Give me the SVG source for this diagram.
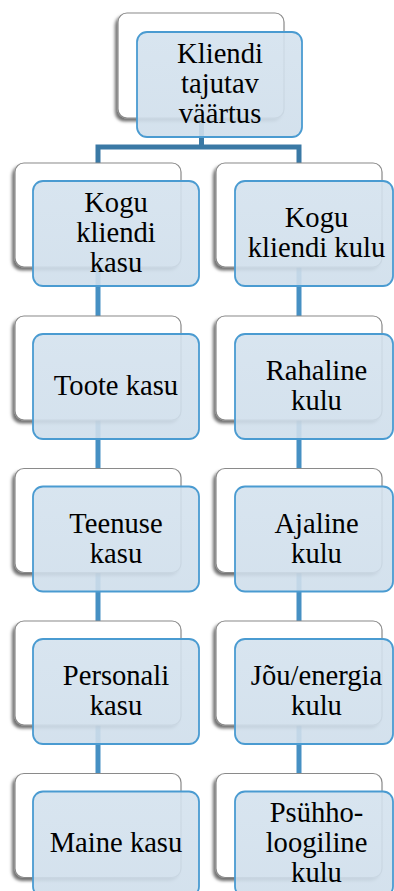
<svg xmlns="http://www.w3.org/2000/svg" width="394" height="891" viewBox="0 0 394 891">
<defs>
<filter id="sh" x="-20%" y="-20%" width="140%" height="150%">
<feDropShadow dx="-2.5" dy="3" stdDeviation="1.8" flood-color="#000" flood-opacity="0.55"/>
</filter>
<linearGradient id="bg" x1="0" y1="0" x2="0" y2="1">
<stop offset="0" stop-color="#d4e2ee"/>
<stop offset="1" stop-color="#cfdeeb"/>
</linearGradient>
</defs>
<style>
.w{fill:#fff;stroke:#8a8a8a;stroke-width:1.2;filter:url(#sh)}
.b{fill:url(#bg);fill-opacity:0.9;stroke:#4a9bd1;stroke-width:1.8}
text{font-family:Liberation Serif,DejaVu Serif,serif;font-size:28.6px;fill:#000;text-anchor:middle}
.c{fill:none;stroke-width:5}
.c0{stroke:#3a79a5}
.c1{stroke:#4690c3}
</style>
<rect width="394" height="891" fill="#fff"/>
<g id="connectors">
<path class="c c0" d="M201.5,118 V147 M98,163 V147 H299 V163"/>
<path class="c c1" d="M98,267 V316 M98,420 V468 M98,573 V621 M98,725 V774"/>
<path class="c c1" d="M299,267 V316 M299,420 V468 M299,573 V621 M299,725 V774"/>
</g>
<g id="n0">
<rect class="w" x="118" y="13" width="166" height="105" rx="9"/>
<rect class="b" x="137" y="32" width="165" height="105" rx="10"/>
<text font-family="Liberation Serif" x="220" y="63">Kliendi</text>
<text font-family="Liberation Serif" x="220" y="93">tajutav</text>
<text font-family="Liberation Serif" x="220" y="123">väärtus</text>
</g>
<g id="l1">
<rect class="w" x="15" y="163" width="166" height="104" rx="9"/>
<rect class="b" x="33" y="181" width="166" height="105" rx="10"/>
<text font-family="Liberation Serif" x="116" y="211.5">Kogu</text>
<text font-family="Liberation Serif" x="116" y="241.5">kliendi</text>
<text font-family="Liberation Serif" x="116" y="271.5">kasu</text>
</g>
<g id="r1">
<rect class="w" x="216" y="163" width="166" height="104" rx="9"/>
<rect class="b" x="235" y="181" width="158" height="105" rx="10"/>
<text font-family="Liberation Serif" x="316.5" y="227">Kogu</text>
<text font-family="Liberation Serif" x="316.5" y="257">kliendi kulu</text>
</g>
<g id="l2">
<rect class="w" x="15" y="316" width="166" height="104" rx="9"/>
<rect class="b" x="33" y="334" width="166" height="105" rx="10"/>
<text font-family="Liberation Serif" x="116" y="395">Toote kasu</text>
</g>
<g id="r2">
<rect class="w" x="216" y="316" width="166" height="104" rx="9"/>
<rect class="b" x="235" y="334" width="158" height="105" rx="10"/>
<text font-family="Liberation Serif" x="316.5" y="380">Rahaline</text>
<text font-family="Liberation Serif" x="316.5" y="410">kulu</text>
</g>
<g id="l3">
<rect class="w" x="15" y="468.5" width="166" height="104" rx="9"/>
<rect class="b" x="33" y="486.5" width="166" height="105" rx="10"/>
<text font-family="Liberation Serif" x="116" y="532.5">Teenuse</text>
<text font-family="Liberation Serif" x="116" y="562.5">kasu</text>
</g>
<g id="r3">
<rect class="w" x="216" y="468.5" width="166" height="104" rx="9"/>
<rect class="b" x="235" y="486.5" width="158" height="105" rx="10"/>
<text font-family="Liberation Serif" x="316.5" y="532.5">Ajaline</text>
<text font-family="Liberation Serif" x="316.5" y="562.5">kulu</text>
</g>
<g id="l4">
<rect class="w" x="15" y="621" width="166" height="104" rx="9"/>
<rect class="b" x="33" y="639" width="166" height="105" rx="10"/>
<text font-family="Liberation Serif" x="116" y="685">Personali</text>
<text font-family="Liberation Serif" x="116" y="715">kasu</text>
</g>
<g id="r4">
<rect class="w" x="216" y="621" width="166" height="104" rx="9"/>
<rect class="b" x="235" y="639" width="158" height="105" rx="10"/>
<text font-family="Liberation Serif" x="316.5" y="685">Jõu/energia</text>
<text font-family="Liberation Serif" x="316.5" y="715">kulu</text>
</g>
<g id="l5">
<rect class="w" x="15" y="773.5" width="166" height="104" rx="9"/>
<rect class="b" x="33" y="791.5" width="166" height="105" rx="10"/>
<text font-family="Liberation Serif" x="116" y="852">Maine kasu</text>
</g>
<g id="r5">
<rect class="w" x="216" y="773.5" width="166" height="104" rx="9"/>
<rect class="b" x="235" y="791.5" width="158" height="105" rx="10"/>
<text font-family="Liberation Serif" x="316.5" y="822">Psühho-</text>
<text font-family="Liberation Serif" x="316.5" y="852">loogiline</text>
<text font-family="Liberation Serif" x="316.5" y="882">kulu</text>
</g>
</svg>
